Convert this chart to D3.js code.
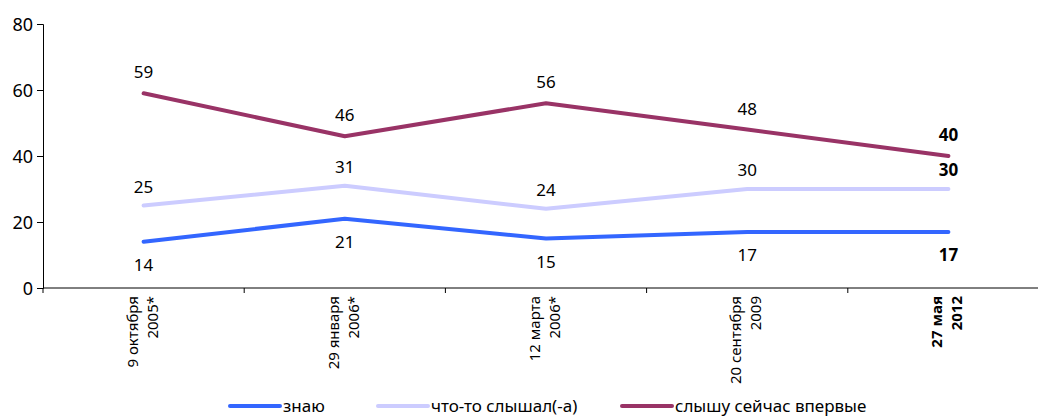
<!DOCTYPE html>
<html>
<head>
<meta charset="utf-8">
<script src="https://cdn.jsdelivr.net/npm/d3@7"></script>
<style>
  body { margin: 0; background: #fff; }
  text { font-family: "Noto Sans", sans-serif; fill: #000; }
</style>
</head>
<body>
<div id="chart"></div>
<script>
// survey dates (two-line labels)
const dates = [
  ['9 октября', '2005*'],
  ['29 января', '2006*'],
  ['12 марта', '2006*'],
  ['20 сентября', '2009'],
  ['27 мая', '2012']
];
const know = [14, 21, 15, 17, 17];
const heard = [25, 31, 24, 30, 30];
const firstTime = [59, 46, 56, 48, 40];
const seriesNames = ['знаю', 'что-то слышал(-а)', 'слышу сейчас впервые'];
const yTicks = [0, 20, 40, 60, 80];

const config = {
  width: 1038,
  height: 417,
  left: 43,
  right: 1049,
  top: 24,
  bottom: 288
};

const series = [
  { name: seriesNames[0], values: know, color: '#3366FF', dy: 29 },
  { name: seriesNames[1], values: heard, color: '#CCCCFF', dy: -13 },
  { name: seriesNames[2], values: firstTime, color: '#993366', dy: -15 }
];

const svg = d3.select('#chart').append('svg')
  .attr('width', config.width)
  .attr('height', config.height);

const x = d3.scaleBand()
  .domain(d3.range(dates.length))
  .range([config.left, config.right]);

const y = d3.scaleLinear()
  .domain([0, 80])
  .range([config.bottom, config.top]);

// y axis
const yAxis = svg.append('g')
  .attr('transform', `translate(${config.left},0)`)
  .call(d3.axisLeft(y).tickValues(yTicks).tickSize(6).tickPadding(4));
yAxis.select('.domain').attr('stroke', '#000');
yAxis.selectAll('text').style('font-size', '18px').attr('dy', '0.35em');

// x axis: line with ticks on band boundaries
const xg = svg.append('g');
xg.append('line')
  .attr('x1', config.left).attr('x2', config.right)
  .attr('y1', config.bottom).attr('y2', config.bottom)
  .attr('stroke', '#000');
xg.selectAll('.xtick')
  .data(d3.range(dates.length + 1))
  .enter().append('line')
  .attr('x1', d => config.left + d * x.step())
  .attr('x2', d => config.left + d * x.step())
  .attr('y1', config.bottom)
  .attr('y2', config.bottom + 5)
  .attr('stroke', '#000');

const labels = xg.selectAll('.xlab')
  .data(dates)
  .enter().append('text')
  .attr('transform', (d, i) => `translate(${x(i) + x.bandwidth() / 2},${config.bottom + 8}) rotate(-90)`)
  .attr('text-anchor', 'end')
  .style('font-size', '15px')
  .style('font-weight', (d, i) => i === dates.length - 1 ? 'bold' : 'normal');
labels.append('tspan')
  .attr('x', 0).attr('y', -6)
  .text(d => d[0]);
labels.append('tspan')
  .attr('x', 0).attr('y', 14)
  .text(d => d[1]);

// lines
const line = d3.line()
  .x((d, i) => x(i) + x.bandwidth() / 2)
  .y(d => y(d));

series.forEach(s => {
  svg.append('path')
    .datum(s.values)
    .attr('d', line)
    .attr('fill', 'none')
    .attr('stroke', s.color)
    .attr('stroke-width', 4)
    .attr('stroke-linecap', 'round')
    .attr('stroke-linejoin', 'round');

  svg.selectAll(null)
    .data(s.values)
    .enter().append('text')
    .attr('x', (d, i) => x(i) + x.bandwidth() / 2)
    .attr('y', d => y(d) + s.dy)
    .attr('text-anchor', 'middle')
    .style('font-size', '17px')
    .style('font-weight', (d, i) => i === s.values.length - 1 ? 'bold' : 'normal')
    .text(d => d);
});

// legend
const legendX = [230, 378, 622];
const legend = svg.append('g');
series.forEach((s, i) => {
  legend.append('line')
    .attr('x1', legendX[i]).attr('x2', legendX[i] + 50)
    .attr('y1', 406).attr('y2', 406)
    .attr('stroke', s.color)
    .attr('stroke-width', 4)
    .attr('stroke-linecap', 'round');
  legend.append('text')
    .attr('x', legendX[i] + 53)
    .attr('y', 412)
    .style('font-size', '17px')
    .text(s.name);
});
</script>
</body>
</html>
